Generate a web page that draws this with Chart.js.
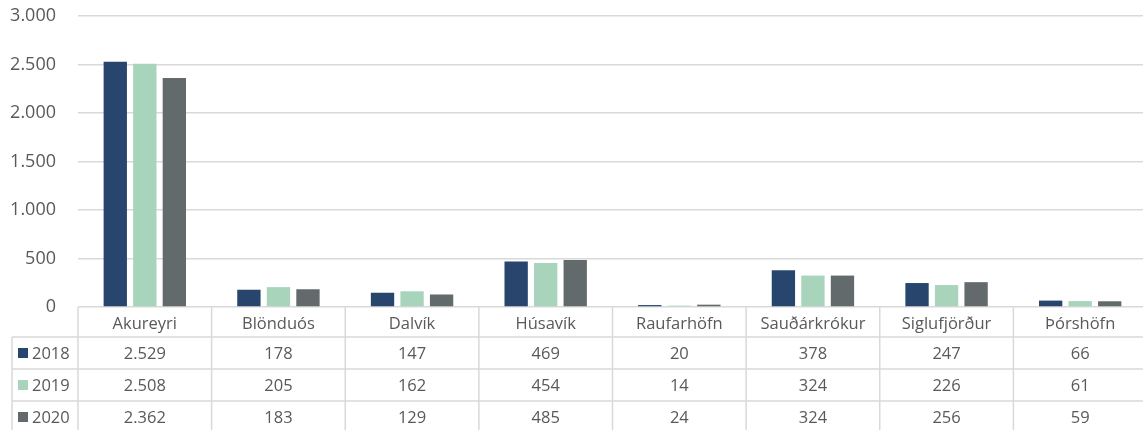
<!DOCTYPE html>
<html lang="is">
<head>
  <meta charset="UTF-8">
  <title>Fjöldi eftir stöðum</title>
  <script src="https://cdn.jsdelivr.net/npm/chart.js"></script>
  <style>
    html, body { margin: 0; padding: 0; background: #fff; overflow: hidden; }
    #wrap { width: 1147px; height: 430px; }
  </style>
</head>
<body>
  <div id="wrap"><canvas id="chart" width="1147" height="430"></canvas></div>

  <script>
    // data
    const categories = ["Akureyri", "Blönduós", "Dalvík", "Húsavík", "Raufarhöfn", "Sauðárkrókur", "Siglufjörður", "Þórshöfn"];
    const years = ["2018", "2019", "2020"];
    const values2018 = [2529, 178, 147, 469, 20, 378, 247, 66];
    const values2019 = [2508, 205, 162, 454, 14, 324, 226, 61];
    const values2020 = [2362, 183, 129, 485, 24, 324, 256, 59];
    const colors = ["#28466d", "#a8d4bc", "#636a6b"];

    const fontFamily = "'Open Sans', sans-serif";
    const textColor = "#595959";
    const lineColor = "#d9d9d9";

    const fmt = v => String(v).replace(/\B(?=(\d{3})+(?!\d))/g, ".");

    // draws the data table under the plot, lined up with the x scale
    const dataTable = {
      id: "dataTable",
      afterDraw(chart) {
        const ctx = chart.ctx;
        const area = chart.chartArea;
        const x = chart.scales.x;
        const y0 = area.bottom;
        const right = area.right;
        const rows = [y0, y0 + 30, y0 + 62, y0 + 94, y0 + 126];
        const tableLeft = 12;
        const series = [values2018, values2019, values2020];
        const step = x.getPixelForValue(1) - x.getPixelForValue(0);

        ctx.save();
        ctx.strokeStyle = lineColor;
        ctx.lineWidth = 1.5;
        ctx.beginPath();
        for (let r = 1; r < 4; r++) {
          ctx.moveTo(tableLeft, rows[r]);
          ctx.lineTo(right, rows[r]);
        }
        ctx.moveTo(tableLeft, rows[1]);
        ctx.lineTo(tableLeft, 430);
        for (let i = 0; i <= categories.length; i++) {
          const bx = x.getPixelForValue(i) - step / 2;
          ctx.moveTo(bx, y0);
          ctx.lineTo(bx, 430);
        }
        ctx.stroke();

        ctx.fillStyle = textColor;
        ctx.font = "16.5px " + fontFamily;
        ctx.textAlign = "center";
        ctx.textBaseline = "middle";
        categories.forEach((c, i) => {
          const cx = x.getPixelForValue(i);
          ctx.fillText(c, cx, (rows[0] + rows[1]) / 2 + 2);
          series.forEach((s, k) => {
            ctx.fillText(fmt(s[i]), cx, (rows[k + 1] + rows[k + 2]) / 2 + 1);
          });
        });

        ctx.textAlign = "left";
        years.forEach((yr, k) => {
          const cy = (rows[k + 1] + rows[k + 2]) / 2;
          ctx.fillStyle = colors[k];
          ctx.fillRect(18, cy - 5, 10, 10);
          ctx.fillStyle = textColor;
          ctx.fillText(yr, 32, cy + 1);
        });
        ctx.restore();
      }
    };

    new Chart(document.getElementById("chart"), {
      type: "bar",
      data: {
        labels: categories,
        datasets: [
          { label: years[0], data: values2018, backgroundColor: colors[0] },
          { label: years[1], data: values2019, backgroundColor: colors[1] },
          { label: years[2], data: values2020, backgroundColor: colors[2] }
        ]
      },
      options: {
        responsive: false,
        animation: false,
        categoryPercentage: 0.663,
        barPercentage: 0.79,
        layout: { padding: { top: 16, right: 0, bottom: 123, left: 0 } },
        plugins: {
          legend: { display: false },
          tooltip: { enabled: false }
        },
        scales: {
          x: { display: false },
          y: {
            min: 0,
            max: 3000,
            ticks: {
              stepSize: 500,
              padding: 22,
              color: textColor,
              font: { family: fontFamily, size: 18 },
              callback: v => fmt(v)
            },
            grid: { color: lineColor, lineWidth: 1.5, drawTicks: false },
            border: { display: false },
            afterFit: s => {
              s.width = 78;
              s.paddingTop = 0;
              s.paddingBottom = 0;
            }
          }
        }
      },
      plugins: [dataTable]
    });
  </script>
</body>
</html>
